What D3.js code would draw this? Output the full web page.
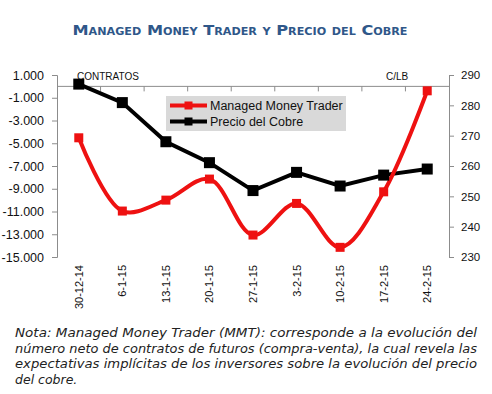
<!DOCTYPE html>
<html><head><meta charset="utf-8">
<script src="https://cdn.jsdelivr.net/npm/d3@7"></script>
<style>body{margin:0;background:#fff}svg{display:block}</style>
</head><body>
<svg id="c" width="492" height="394"></svg>
<script>
const categories = ["30-12-14","6-1-15","13-1-15","20-1-15","27-1-15","3-2-15","10-2-15","17-2-15","24-2-15"];
const mmt = [-4520,-10960,-10000,-8150,-13070,-10290,-14150,-9270,-390];
const cobre = [287.0,280.9,268.0,261.1,251.9,257.9,253.4,257.0,259.0];
const leftTicks = [1000,-1000,-3000,-5000,-7000,-9000,-11000,-13000,-15000];
const rightTicks = [290,280,270,260,250,240,230];
const seriesNames = ["Managed Money Trader","Precio del Cobre"];
const noteLines = [
 "Nota: Managed Money Trader (MMT): corresponde a la evolución del",
 "número neto de contratos de futuros (compra-venta), la cual revela las",
 "expectativas implícitas de los inversores sobre la evolución del precio",
 "del cobre."
];

const svg = d3.select("#c");
const L = 57, R = 449, T = 75, B = 257;
const x = d3.scaleBand().domain(categories).range([L, R]);
const yL = d3.scaleLinear().domain([-15000, 1000]).range([B, T]);
const yR = d3.scaleLinear().domain([230, 290]).range([B, T]);
const loc = d3.formatLocale({decimal:",", thousands:".", grouping:[3], currency:["",""], minus:"-"});
const fmt = loc.format(",");
const axisColor = "#8c8c8c";

// title
svg.append("text").attr("x", 240).attr("y", 35).attr("text-anchor","middle")
  .attr("font-family","DejaVu Sans, Verdana, sans-serif").attr("font-weight","bold")
  .attr("font-size", 14.5).style("font-variant","small-caps").attr("fill","#2f5789")
  .attr("textLength", 335).attr("lengthAdjust","spacingAndGlyphs")
  .text("Managed Money Trader y Precio del Cobre");

// left axis
const gl = svg.append("g").attr("transform",`translate(${L},0)`)
  .call(d3.axisLeft(yL).tickValues(leftTicks).tickFormat(fmt).tickSize(5).tickPadding(8));
gl.selectAll("text").attr("font-family","Liberation Sans, Arial, sans-serif").attr("font-size",12.5).attr("fill","#111");
// right axis
const gr = svg.append("g").attr("transform",`translate(${R},0)`)
  .call(d3.axisRight(yR).tickValues(rightTicks).tickSize(5).tickPadding(7));
gr.selectAll("text").attr("font-family","Liberation Sans, Arial, sans-serif").attr("font-size",11.5).attr("fill","#111");
[gl, gr].forEach(g => { g.selectAll("path,line").attr("stroke", axisColor); });

// category axis at zero
const y0 = yL(0);
svg.append("line").attr("x1",L).attr("x2",R).attr("y1",y0).attr("y2",y0).attr("stroke",axisColor);
svg.append("g").selectAll("line").data(categories.slice(1)).join("line")
  .attr("x1",d=>x(d)).attr("x2",d=>x(d)).attr("y1",y0).attr("y2",y0+5).attr("stroke",axisColor);

// x labels
svg.append("g").selectAll("text").data(categories).join("text")
  .attr("transform", d=>`translate(${x(d)+x.bandwidth()/2+4},265) rotate(-90)`)
  .attr("text-anchor","end").attr("font-family","Liberation Sans, Arial, sans-serif")
  .attr("font-size",11).attr("fill","#111").text(d=>d);

// unit labels
svg.append("text").attr("x",77).attr("y",80).attr("font-family","Liberation Sans, Arial, sans-serif")
  .attr("font-size",10).attr("fill","#111").text("CONTRATOS");
svg.append("text").attr("x",386).attr("y",80).attr("font-family","Liberation Sans, Arial, sans-serif")
  .attr("font-size",10).attr("fill","#111").text("C/LB");

const cx = d => x(d) + x.bandwidth()/2;
const red = "#ee1111";

// black line
svg.append("path").datum(cobre).attr("fill","none").attr("stroke","#000").attr("stroke-width",4)
  .attr("d", d3.line().x((d,i)=>cx(categories[i])).y(d=>yR(d)));
// red smoothed line
svg.append("path").datum(mmt).attr("fill","none").attr("stroke",red).attr("stroke-width",4)
  .attr("d", d3.line().x((d,i)=>cx(categories[i])).y(d=>yL(d)).curve(d3.curveCatmullRom.alpha(0.5)));

// markers
svg.append("g").selectAll("rect").data(mmt).join("rect")
  .attr("x",(d,i)=>cx(categories[i])-4.5).attr("y",d=>yL(d)-4.5).attr("width",9).attr("height",9).attr("fill",red);
svg.append("g").selectAll("rect").data(cobre).join("rect")
  .attr("x",(d,i)=>cx(categories[i])-5.5).attr("y",d=>yR(d)-5.5).attr("width",11).attr("height",11).attr("fill","#000");

// legend
const lg = svg.append("g");
lg.append("rect").attr("x",166).attr("y",96).attr("width",180).attr("height",35).attr("fill","#d9d9d9");
const colors = [red, "#000"];
seriesNames.forEach((n,i)=>{
  const yy = 105.5 + i*16;
  lg.append("line").attr("x1",170).attr("x2",207).attr("y1",yy).attr("y2",yy).attr("stroke",colors[i]).attr("stroke-width",4);
  lg.append("rect").attr("x",184.5).attr("y",yy-4).attr("width",8).attr("height",8).attr("fill",colors[i]);
  lg.append("text").attr("x",210).attr("y",yy+4.5).attr("font-family","Liberation Sans, Arial, sans-serif")
    .attr("font-size",12.5).attr("fill","#111").text(n);
});

// note
noteLines.forEach((t,i)=>{
  const tx = svg.append("text").attr("x",15).attr("y",337 + i*15.6)
    .attr("font-family","DejaVu Sans, Verdana, sans-serif").attr("font-style","italic")
    .attr("font-size",12.5).attr("fill","#222").text(t);
  if (i < 3) tx.attr("textLength",462).attr("lengthAdjust","spacingAndGlyphs");
});
</script>
</body></html>
